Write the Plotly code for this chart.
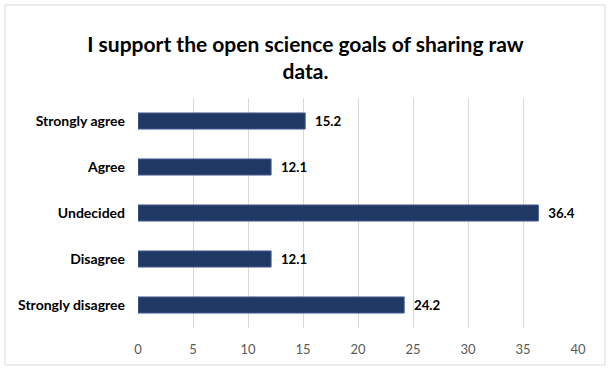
import plotly.graph_objects as go

categories = ["Strongly agree", "Agree", "Undecided", "Disagree", "Strongly disagree"]
values = [15.2, 12.1, 36.4, 12.1, 24.2]
labels = ["15.2", "12.1", "36.4", "12.1", "24.2"]
tick_vals = [0, 5, 10, 15, 20, 25, 30, 35, 40]

FONT = "Lato, Roboto, sans-serif"

fig = go.Figure(go.Bar(
    x=values,
    y=categories,
    orientation="h",
    text=labels,
    textposition="outside",
    textfont=dict(family=FONT, size=14, color="#000000"),
    texttemplate="&nbsp;&nbsp;<b>%{text}</b>",
    marker=dict(color="#1F3864", line=dict(color="#4A6296", width=1)),
    cliponaxis=False,
))

fig.update_layout(
    width=611, height=370,
    margin=dict(l=138, r=33, t=98, b=42),
    paper_bgcolor="white", plot_bgcolor="white",
    bargap=0.65,
    showlegend=False,
    font=dict(family=FONT),
    title=dict(
        text="<b>I support the open science goals of sharing raw<br>data.</b>",
        x=0.5, xanchor="center", y=0.86, yanchor="middle",
        font=dict(family=FONT, size=21, color="#000000"),
    ),
    xaxis=dict(
        range=[0, 40], tickvals=tick_vals, showgrid=True, gridcolor="#D9D9D9", gridwidth=1,
        zeroline=False, showline=False, ticks="", automargin=False,
        tickfont=dict(family=FONT, size=13, color="#595959"),
        ticklabelstandoff=12,
    ),
    yaxis=dict(
        categoryorder="array", categoryarray=categories[::-1],
        showgrid=False, zeroline=False, showline=False, ticks="", automargin=False,
        tickfont=dict(family=FONT, size=14, color="#000000"),
        ticklabelstandoff=12,
    ),
    shapes=[dict(
        type="rect", xref="paper", yref="paper",
        x0=(5 - 138) / 440, x1=(605 - 138) / 440,
        y0=(328 - 365) / 230, y1=(328 - 5) / 230,
        line=dict(color="#D9D9D9", width=1), fillcolor="rgba(0,0,0,0)", layer="below",
    )],
)
fig.update_yaxes(tickprefix="<b>", ticksuffix="</b>")

fig.write_html("out.html", config={"displayModeBar": False},
               post_script="document.body.style.margin='0';")
